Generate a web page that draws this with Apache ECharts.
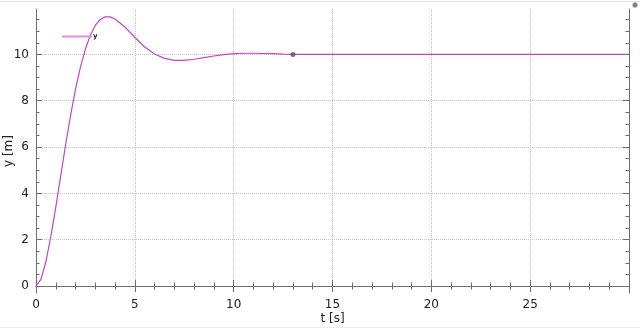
<!DOCTYPE html>
<html>
<head>
<meta charset="utf-8">
<script src="https://cdn.jsdelivr.net/npm/echarts@6/dist/echarts.min.js"></script>
<style>html,body{margin:0;padding:0;background:#fff}#c{width:640px;height:329px}</style>
</head>
<body>
<div id="c"></div>
<script>
var tValues = [0,0.25,0.5,0.75,1,1.25,1.5,1.75,2,2.25,2.5,2.75,3,3.25,3.5,3.75,4,4.5,5,5.5,6,6.5,7,7.5,8,8.5,9,9.5,10,10.5,11,11.5,12,12.5,13,30];
var yValues = [0,0.29,1.05,2.13,3.40,4.76,6.11,7.37,8.50,9.46,10.23,10.83,11.25,11.51,11.62,11.62,11.53,11.18,10.74,10.32,10.02,9.83,9.74,9.74,9.79,9.86,9.93,9.99,10.03,10.05,10.05,10.04,10.03,10.01,10.0,10.0];
var markerPoint = [13, 10];
var xTickLabels = [0,5,10,15,20,25];
var yTickLabels = [0,2,4,6,8,10];
var yMinorTicks = [0.5,1,1.5,2.5,3,3.5,4.5,5,5.5,6.5,7,7.5,8.5,9,9.5,10.5,11,11.5];

var frameColor = '#6e6e6e';
var gridColor = '#c4c4c4';
var font = 'DejaVu Sans';

var chart = echarts.init(document.getElementById('c'), null, {renderer: 'canvas'});
var seriesData = tValues.map(function (t, i) { return [t, yValues[i]]; });

var xBase = {
  type: 'value', min: 0, max: 30, interval: 5,
  axisLine: {show: true, lineStyle: {color: frameColor, width: 1}},
  axisTick: {show: true, inside: true, length: 6, lineStyle: {color: frameColor}},
  minorTick: {show: true, splitNumber: 5, length: 3.5, lineStyle: {color: frameColor}},
  splitLine: {show: false}
};
var yBase = {
  type: 'value', min: -0.3, max: 11.96,
  axisLine: {show: true, lineStyle: {color: frameColor, width: 1}},
  splitLine: {show: false},
  axisLabel: {show: false}
};

chart.setOption({
  backgroundColor: '#ffffff',
  animation: false,
  grid: {left: 36, right: 11, top: 9, bottom: 36, containLabel: false, outerBoundsMode: 'none'},
  legend: {
    data: ['y'], left: 62, top: 33, padding: 0, icon: 'rect', itemWidth: 30, itemHeight: 2, itemGap: 0,
    itemStyle: {color: '#e48fe4'},
    textStyle: {fontFamily: font, fontSize: 7, fontWeight: 'bold', color: '#222', padding: [2, 0, 0, -4]}
  },
  xAxis: [
    Object.assign({}, xBase, {
      position: 'bottom',
      name: 't [s]', nameLocation: 'middle', nameGap: 20, nameMoveOverlap: false,
      nameTextStyle: {fontFamily: font, fontSize: 12, color: '#222'},
      splitLine: {show: true, lineStyle: {color: gridColor, type: 'dotted', width: 1}},
      axisLabel: {show: true, customValues: xTickLabels, fontFamily: font, fontSize: 12, color: '#222', margin: 6}
    }),
    Object.assign({}, xBase, {position: 'top', axisLabel: {show: false}})
  ],
  yAxis: [
    Object.assign({}, yBase, {
      position: 'left',
      name: 'y [m]', nameLocation: 'middle', nameGap: 21, nameRotate: 90, nameMoveOverlap: false,
      nameTextStyle: {fontFamily: font, fontSize: 12, color: '#222'},
      axisTick: {show: true, inside: true, length: 6, customValues: yTickLabels, lineStyle: {color: frameColor}},
      axisLabel: {show: true, customValues: yTickLabels, fontFamily: font, fontSize: 12, color: '#222', margin: 7},
      splitLine: {show: true, lineStyle: {color: gridColor, type: 'dotted', width: 1}}
    }),
    Object.assign({}, yBase, {
      position: 'left', axisLine: {show: false},
      axisTick: {show: true, inside: true, length: 3.5, customValues: yMinorTicks, lineStyle: {color: frameColor}}
    }),
    Object.assign({}, yBase, {
      position: 'right',
      axisTick: {show: true, inside: true, length: 6, customValues: yTickLabels, lineStyle: {color: frameColor}}
    }),
    Object.assign({}, yBase, {
      position: 'right', axisLine: {show: false},
      axisTick: {show: true, inside: true, length: 3.5, customValues: yMinorTicks, lineStyle: {color: frameColor}}
    })
  ],
  series: [
    {
      name: 'y', type: 'line', xAxisIndex: 0, yAxisIndex: 0,
      data: seriesData, showSymbol: false, symbol: 'none', z: 2,
      lineStyle: {color: '#c843c8', width: 1.2},
      itemStyle: {color: '#c843c8'}
    },
    {
      name: 'marker', type: 'scatter', xAxisIndex: 0, yAxisIndex: 0, z: 5,
      data: [markerPoint], symbol: 'circle', symbolSize: 5,
      itemStyle: {color: '#555555'}
    }
  ],
  graphic: [
    {type: 'line', shape: {x1: 0, y1: 1.5, x2: 640, y2: 1.5}, style: {stroke: '#e2e2e2', lineWidth: 1}, silent: true},
    {type: 'line', shape: {x1: 0, y1: 327.5, x2: 640, y2: 327.5}, style: {stroke: '#ececec', lineWidth: 1}, silent: true},
    {type: 'circle', shape: {cx: 635, cy: 5, r: 2.5}, style: {fill: '#777', stroke: '#bbb', lineWidth: 1}, silent: true}
  ]
});
</script>
</body>
</html>
